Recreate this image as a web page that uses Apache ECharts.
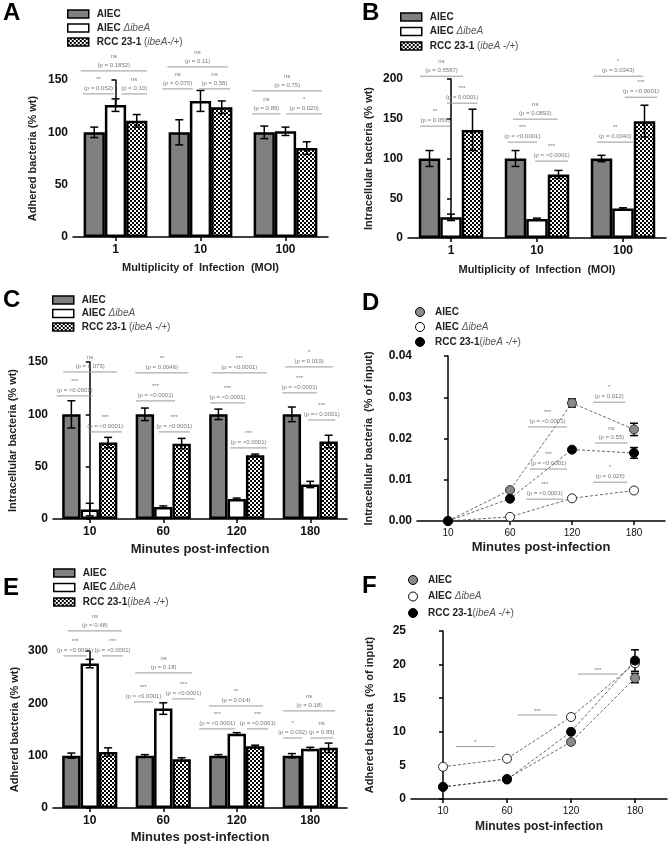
<!DOCTYPE html>
<html><head><meta charset="utf-8">
<script src="https://cdn.jsdelivr.net/npm/echarts@6/dist/echarts.min.js"></script>
<style>html,body{margin:0;padding:0;background:#fff}#c{width:669px;height:846px}</style>
</head><body><div id="c"></div>
<script>
// ---------------- data ----------------
const molCats = ['1', '10', '100'];
const minCats = ['10', '60', '120', '180'];

// Panel A – adhered bacteria (% wt) vs MOI
const aAIEC = [100, 100, 100], aAIECerr = [5, 12, 6];
const aDelta = [126, 130, 101], aDeltaErr = [6, 10, 4];
const aRCC = [111, 124, 85], aRCCerr = [6, 6, 6];
// Panel B – intracellular bacteria (% wt) vs MOI
const bAIEC = [100, 100, 100], bAIECerr = [10, 10, 4];
const bDelta = [26, 24, 37], bDeltaErr = [4, 1, 1];
const bRCC = [136, 80, 147], bRCCerr = [26, 5, 20];
// Panel C – intracellular bacteria (% wt) vs minutes
const cAIEC = [100, 100, 100, 100], cAIECerr = [13, 6, 5, 7];
const cDelta = [9, 11.5, 19, 33], cDeltaErr = [6, 1, 1, 3];
const cRCC = [73, 72, 61, 74], cRCCerr = [5, 5, 1, 6];
// Panel D – intracellular bacteria (% of input)
const dAIEC = [0, 0.0075, 0.0286, 0.0222], dAIECerr = [0, 0, 0.001, 0.0015];
const dDelta = [0, 0.001, 0.0055, 0.0074], dDeltaErr = [0, 0, 0, 0];
const dRCC = [0, 0.0054, 0.0173, 0.0165], dRCCerr = [0, 0, 0, 0.0013];
// Panel E – adhered bacteria (% wt) vs minutes
const eAIEC = [100, 100, 100, 100], eAIECerr = [5, 2, 2, 4];
const eDelta = [276, 190, 142, 113], eDeltaErr = [8, 11, 2, 3];
const eRCC = [107, 93, 118, 115], eRCCerr = [8, 3, 2, 9];
// Panel F – adhered bacteria (% of input)
const fAIEC = [1.8, 3.0, 8.5, 18.0], fAIECerr = [0, 0, 0, 0.7];
const fDelta = [4.8, 6.0, 12.2, 20.2], fDeltaErr = [0, 0, 0, 0];
const fRCC = [1.8, 2.9, 10.0, 20.6], fRCCerr = [0, 0, 0, 1.6];

// significance brackets: [from, to (category units), level (data units), stars, p-text]
const aNotes = [
  [-0.41, 0.37, 158.7, 'ns', '(p = 0.1852)'],
  [-0.38, -0.02, 136.7, '**', '(p = 0.052)'],
  [0.07, 0.37, 136.7, 'ns', '(p = 0.10)'],
  [0.61, 1.32, 162.5, 'ns', '(p = 0.11)'],
  [0.55, 0.91, 141.5, 'ns', '(p = 0.075)'],
  [0.98, 1.35, 141.5, 'ns', '(p = 0.58)'],
  [1.61, 2.43, 139.6, 'ns', '(p = 0.75)'],
  [1.61, 1.94, 117.6, 'ns', '(p = 0.89)'],
  [2.01, 2.43, 117.6, '*', '(p = 0.020)']
];
const bNotes = [
  [-0.36, 0.14, 203.5, 'ns', '(p = 0.5587)'],
  [-0.36, -0.01, 140.7, '**', '(p = 0.056)'],
  [-0.05, 0.31, 169.6, '***', '(p = 0.0001)'],
  [0.72, 1.24, 149.5, 'ns', '(p = 0.0892)'],
  [0.66, 1.00, 120.6, '***', '(p = <0.0001)'],
  [0.98, 1.36, 96.7, '***', '(p = <0.0001)'],
  [1.66, 2.23, 203.5, '*', '(p = 0.0343)'],
  [2.02, 2.40, 177.1, '***', '(p = <0.0001)'],
  [1.70, 2.12, 120.6, '**', '(p = 0.0040)']
];
const cNotes = [
  [-0.36, 0.37, 140.5, 'ns', '(p = 0.075)'],
  [-0.45, 0.04, 117.6, '***', '(p = <0.0001)'],
  [-0.02, 0.44, 83.2, '***', '(p = <0.0001)'],
  [0.62, 1.34, 139.6, '**', '(p = 0.0046)'],
  [0.63, 1.16, 112.8, '***', '(p = <0.0001)'],
  [0.94, 1.36, 83.2, '***', '(p = <0.0001)'],
  [1.66, 2.41, 139.6, '***', '(p = <0.0001)'],
  [1.64, 2.11, 110.9, '***', '(p = <0.0001)'],
  [1.91, 2.41, 67.9, '***', '(p = <0.0001)'],
  [2.66, 3.31, 145.3, '*', '(p = 0.019)'],
  [2.62, 3.09, 120.5, '***', '(p = <0.0001)'],
  [2.97, 3.34, 94.6, '***', '(p =< 0.0001)']
];
const dNotes = [
  [2.34, 2.86, 0.0288, '*', '(p = 0.012)'],
  [1.29, 1.92, 0.0228, '***', '(p = <0.0001)'],
  [2.37, 2.90, 0.0189, 'ns', '(p = 0.55)'],
  [1.32, 1.92, 0.0126, '***', '(p = <0.0001)'],
  [2.34, 2.89, 0.0094, '*', '(p = 0.026)'],
  [1.26, 1.86, 0.0053, '***', '(p = <0.0001)']
];
const eNotes = [
  [-0.30, 0.44, 338.4, 'ns', '(p = 0.48)'],
  [-0.36, -0.04, 290.6, '***', '(p = <0.0001)'],
  [0.17, 0.45, 290.6, '***', '(p = <0.0001)'],
  [0.62, 1.39, 258.1, 'ns', '(p = 0.18)'],
  [0.60, 0.86, 202.7, '***', '(p = <0.0001)'],
  [1.12, 1.43, 208.4, '***', '(p = <0.0001)'],
  [1.62, 2.36, 195.0, '**', '(p = 0.014)'],
  [1.49, 1.98, 151.1, '***', '(p = <0.0001)'],
  [2.14, 2.43, 151.1, '***', '(p = <0.0001)'],
  [2.63, 3.34, 185.5, 'ns', '(p = 0.18)'],
  [2.63, 2.89, 133.8, '*', '(p = 0.032)'],
  [3.00, 3.31, 133.8, 'ns', '(p = 0.85)']
];
const fNotes = [
  [0.20, 0.81, 7.8, '*', ''],
  [1.17, 1.78, 12.5, '***', ''],
  [2.11, 2.73, 18.6, '***', '']
];

// ---------------- rendering ----------------
const FONT = 'Liberation Sans, Arial, sans-serif';

function checker() {
  const c = document.createElement('canvas');
  c.width = 4; c.height = 4;
  const g = c.getContext('2d');
  g.fillStyle = '#000'; g.fillRect(0, 0, 4, 4);
  g.fillStyle = '#fff'; g.fillRect(0, 0, 2, 2); g.fillRect(2, 2, 2, 2);
  return { image: c, repeat: 'repeat' };
}
const CHECK = checker();

const barStyles = [
  { color: '#808080', borderColor: '#000', borderWidth: 2.5 },
  { color: '#fff', borderColor: '#000', borderWidth: 2.5 },
  { color: CHECK, borderColor: '#000', borderWidth: 2.5 }
];
const dotStyles = [
  { color: '#8a8a8a', borderColor: '#333', borderWidth: 1 },
  { color: '#fff', borderColor: '#222', borderWidth: 1 },
  { color: '#000', borderColor: '#000', borderWidth: 1 }
];

const panels = [
  { kind: 'bar', letter: 'A', cats: molCats, grid: { left: 73, top: 80, width: 255, height: 157 }, max: 150, interval: 50,
    yName: 'Adhered bacteria (% wt)', xName: 'Multiplicity of  Infection  (MOI)', xNameSize: 11, xLabelSize: 12, xLabelBold: true,
    names: ['AIEC', 'AIEC ΔibeA', 'RCC 23-1 (ibeA-/+)'], vals: [aAIEC, aDelta, aRCC], errs: [aAIECerr, aDeltaErr, aRCCerr], notes: aNotes,
    legend: { left: 67, top: 8, gap: 2 }, title: { left: 3, top: 1 }, yGap: 35, xGap: 25 },
  { kind: 'bar', letter: 'B', cats: molCats, grid: { left: 408, top: 79, width: 258, height: 159 }, max: 200, interval: 50,
    yName: 'Intracellular bacteria (% wt)', xName: 'Multiplicity of  Infection  (MOI)', xNameSize: 11, xLabelSize: 12, xLabelBold: true,
    names: ['AIEC', 'AIEC ΔibeA', 'RCC 23-1 (ibeA -/+)'], vals: [bAIEC, bDelta, bRCC], errs: [bAIECerr, bDeltaErr, bRCCerr], notes: bNotes,
    legend: { left: 400, top: 11, gap: 2.5 }, title: { left: 362, top: 1 }, yGap: 34, xGap: 26 },
  { kind: 'bar', letter: 'C', cats: minCats, grid: { left: 53, top: 362, width: 294, height: 157 }, max: 150, interval: 50,
    yName: 'Intracellular bacteria (% wt)', xName: 'Minutes post-infection', xNameSize: 13, xLabelSize: 12, xLabelBold: true,
    names: ['AIEC', 'AIEC ΔibeA', 'RCC 23-1 (ibeA -/+)'], vals: [cAIEC, cDelta, cRCC], errs: [cAIECerr, cDeltaErr, cRCCerr], notes: cNotes,
    legend: { left: 52, top: 294, gap: 1.5 }, title: { left: 3, top: 288 }, yGap: 35, xGap: 24 },
  { kind: 'dot', letter: 'D', cats: minCats, grid: { left: 417, top: 356, width: 248, height: 165 }, max: 0.04, interval: 0.01, decimals: 2,
    yName: 'Intracellular bacteria  (% of input)', xName: 'Minutes post-infection', xNameSize: 13, xLabelSize: 10, xLabelBold: false,
    names: ['AIEC', 'AIEC ΔibeA', 'RCC 23-1(ibeA -/+)'], vals: [dAIEC, dDelta, dRCC], errs: [dAIECerr, dDeltaErr, dRCCerr], notes: dNotes,
    legend: { left: 415, top: 306, gap: 3 }, title: { left: 362, top: 291 }, yGap: 43, xGap: 20 },
  { kind: 'bar', letter: 'E', cats: minCats, grid: { left: 53, top: 651, width: 294, height: 157 }, max: 300, interval: 100,
    yName: 'Adhered bacteria (% wt)', xName: 'Minutes post-infection', xNameSize: 13, xLabelSize: 12, xLabelBold: true,
    names: ['AIEC', 'AIEC ΔibeA', 'RCC 23-1(ibeA -/+)'], vals: [eAIEC, eDelta, eRCC], errs: [eAIECerr, eDeltaErr, eRCCerr], notes: eNotes,
    legend: { left: 53, top: 567, gap: 2.5 }, title: { left: 3, top: 576 }, yGap: 33, xGap: 23 },
  { kind: 'dot', letter: 'F', cats: minCats, grid: { left: 411, top: 631, width: 256, height: 168 }, max: 25, interval: 5,
    yName: 'Adhered bacteria  (% of input)', xName: 'Minutes post-infection', xNameSize: 12, xLabelSize: 10, xLabelBold: false,
    names: ['AIEC', 'AIEC ΔibeA', 'RCC 23-1(ibeA -/+)'], vals: [fAIEC, fDelta, fRCC], errs: [fAIECerr, fDeltaErr, fRCCerr], notes: fNotes,
    legend: { left: 408, top: 574, gap: 4.5 }, title: { left: 362, top: 574 }, yGap: 36, xGap: 22 }
];

function legendFmt(name) {
  const s = name.slice(2);
  let m = s.match(/^AIEC (ΔibeA)$/);
  if (m) return '{b|AIEC }{i|' + m[1] + '}';
  m = s.match(/^(RCC 23-1 ?)\((.*)\)$/);
  if (m) return '{b|' + m[1] + '}{n|(}{i|' + m[2] + '}{n|)}';
  return '{b|' + s + '}';
}

function errRender(params, api) {
  const x = api.value(0), v = api.value(1), e = api.value(2);
  if (!e) return { type: 'group', children: [] };
  const t = api.coord([x, v + e]), b = api.coord([x, v - e]);
  const w = 4, st = { stroke: '#000', lineWidth: 1.5 };
  return { type: 'group', children: [
    { type: 'line', shape: { x1: t[0], y1: t[1], x2: b[0], y2: b[1] }, style: st },
    { type: 'line', shape: { x1: t[0] - w, y1: t[1], x2: t[0] + w, y2: t[1] }, style: st },
    { type: 'line', shape: { x1: b[0] - w, y1: b[1], x2: b[0] + w, y2: b[1] }, style: st }
  ] };
}

function makeNoteRender(notes) {
  return function (params, api) {
    const n = notes[params.dataIndex];
    const p1 = api.coord([n[0], n[2]]), p2 = api.coord([n[1], n[2]]);
    const cx = (p1[0] + p2[0]) / 2, y = p1[1];
    const kids = [
      { type: 'line', shape: { x1: p1[0], y1: y, x2: p2[0], y2: y }, style: { stroke: '#999', lineWidth: 1 } }
    ];
    const ts = (txt, yy) => ({ type: 'text', x: cx, y: yy, style: { text: txt, fill: '#777', fontSize: 6, fontFamily: FONT, align: 'center', verticalAlign: 'middle' } });
    if (n[4]) {
      kids.push(ts(n[4], y - 6));
      kids.push(ts(n[3], y - 15));
    } else {
      kids.push(ts(n[3], y - 4));
    }
    return { type: 'group', children: kids };
  };
}

const axisLine = { show: true, lineStyle: { color: '#000', width: 1.5 } };
const axisTick = { show: true, length: 4, lineStyle: { color: '#000', width: 1.5 } };

const grids = [], xAxes = [], yAxes = [], series = [], legends = [], titles = [];

panels.forEach((p, k) => {
  grids.push(Object.assign({ containLabel: false, outerBoundsMode: 'none' }, p.grid));
  xAxes.push({
    type: 'category', gridIndex: k, data: p.cats, boundaryGap: true,
    axisLine, axisTick: Object.assign({ alignWithLabel: true }, axisTick),
    axisLabel: { color: '#111', fontSize: p.xLabelSize, fontWeight: p.xLabelBold ? 'bold' : 'normal', fontFamily: FONT, margin: 7 },
    splitLine: { show: false },
    name: p.xName, nameLocation: 'middle', nameGap: p.xGap,
    nameTextStyle: { color: '#222', fontSize: p.xNameSize, fontWeight: 'bold', fontFamily: FONT }
  });
  xAxes.push({ type: 'value', gridIndex: k, min: -0.5, max: p.cats.length - 0.5, show: false });
  yAxes.push({
    type: 'value', gridIndex: k, min: 0, max: p.max, interval: p.interval,
    axisLine, axisTick,
    axisLabel: { color: '#111', fontSize: 12, fontWeight: 'bold', fontFamily: FONT, margin: 5,
      formatter: p.decimals ? (v => v.toFixed(p.decimals)) : (v => String(v)) },
    splitLine: { show: false },
    name: p.yName, nameLocation: 'middle', nameGap: p.yGap, nameRotate: 90,
    nameTextStyle: { color: '#222', fontSize: 11, fontWeight: 'bold', fontFamily: FONT }
  });
  const xc = 2 * k, xv = 2 * k + 1;
  const full = p.names.map(n => p.letter + ':' + n);
  const ed = [];
  if (p.kind === 'bar') {
    p.vals.forEach((v, j) => {
      series.push({ type: 'bar', name: full[j], xAxisIndex: xc, yAxisIndex: k, data: v,
        barWidth: '25%', barGap: '0%', itemStyle: barStyles[j], z: 2, silent: true });
      v.forEach((m, i) => ed.push([i + (j - 1) * 0.25, m, p.errs[j][i]]));
    });
  } else {
    p.vals.forEach((v, j) => {
      series.push({ type: 'line', name: full[j], xAxisIndex: xc, yAxisIndex: k, data: v,
        symbol: 'circle', symbolSize: 9, showSymbol: true,
        lineStyle: { type: [3, 2], color: '#444', width: 0.8 },
        itemStyle: dotStyles[j], z: 4 + j, silent: true });
      v.forEach((m, i) => ed.push([i, m, p.errs[j][i]]));
    });
  }
  series.push({ type: 'custom', xAxisIndex: xv, yAxisIndex: k, data: ed, renderItem: errRender, z: p.kind === 'bar' ? 5 : 3, clip: false, silent: true });
  series.push({ type: 'custom', xAxisIndex: xv, yAxisIndex: k, data: p.notes.map(n => [n[0], n[2], n[1]]),
    renderItem: makeNoteRender(p.notes), z: 6, clip: false, silent: true });

  const isBar = p.kind === 'bar';
  legends.push({
    data: full, left: p.legend.left, top: p.legend.top, orient: 'vertical', padding: 0,
    itemGap: p.legend.gap, itemWidth: isBar ? 21 : 14, itemHeight: isBar ? 8 : 9,
    icon: isBar ? 'rect' : 'circle', selectedMode: false, formatter: legendFmt,
    itemStyle: { borderColor: '#000', borderWidth: isBar ? 1.5 : 1 },
    textStyle: { fontFamily: FONT, fontSize: 10, color: '#222', lineHeight: 12,
      rich: {
        b: { fontWeight: 'bold', fontSize: 10, color: '#222', fontFamily: FONT, lineHeight: 12, padding: [0, 0, 0, 3] },
        i: { fontStyle: 'italic', fontSize: 10, color: '#555', fontFamily: FONT, lineHeight: 12 },
        n: { fontSize: 10, color: '#555', fontFamily: FONT, lineHeight: 12 }
      } }
  });
  titles.push({ text: p.letter, left: p.title.left, top: p.title.top, padding: 0,
    textStyle: { fontSize: 24, fontWeight: 'bold', color: '#000', fontFamily: FONT } });
});

const chart = echarts.init(document.getElementById('c'), null, { renderer: 'canvas' });
chart.setOption({
  animation: false,
  backgroundColor: '#fff',
  title: titles, legend: legends, grid: grids, xAxis: xAxes, yAxis: yAxes, series
});
</script>
</body></html>
